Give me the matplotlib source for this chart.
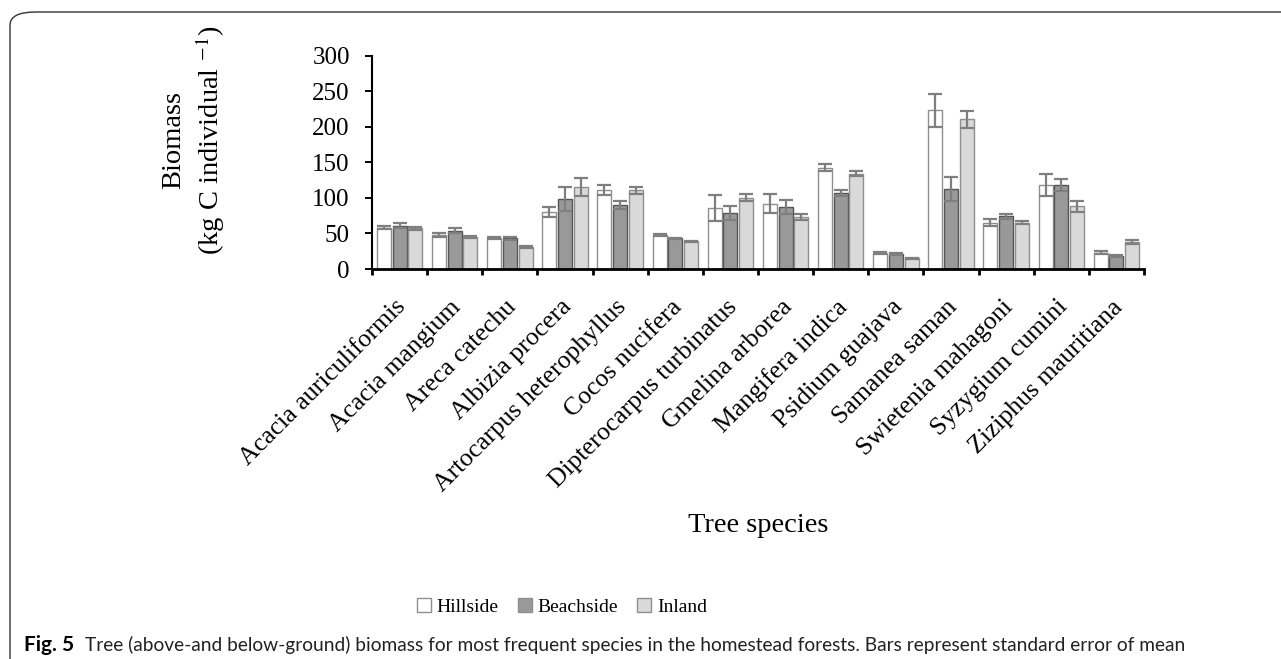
import matplotlib
matplotlib.use("Agg")
import matplotlib.pyplot as plt
import matplotlib.transforms as mtransforms
from matplotlib.patches import Patch, FancyBboxPatch
import numpy as np

# species and mean biomass (kg C per individual) with standard errors
species = ["Acacia auriculiformis", "Acacia mangium", "Areca catechu",
           "Albizia procera", "Artocarpus heterophyllus", "Cocos nucifera",
           "Dipterocarpus turbinatus", "Gmelina arborea", "Mangifera indica",
           "Psidium guajava", "Samanea saman", "Swietenia mahagoni",
           "Syzygium cumini", "Ziziphus mauritiana"]
hillside = [58, 48, 43.5, 80, 111, 48, 86, 92, 142.5, 22, 223, 65, 118, 23]
hillside_se = [2, 3, 1, 7, 6.5, 1.5, 18, 13, 5, 1.5, 23, 5, 15, 2.5]
beachside = [61, 54, 43, 99, 90, 43, 79, 87, 107, 21, 113, 74, 118.5, 18]
beachside_se = [3.5, 3, 2, 17, 5, 1, 10, 10, 4, 1.5, 17, 3, 8.5, 1]
inland = [57, 45, 31, 115, 111, 39, 100, 73, 134, 15, 210.5, 65, 88, 37.5]
inland_se = [1.5, 2, 2, 13, 5, 1, 5, 4, 3.5, 1, 11.5, 2, 8, 3]
sites = ["Hillside", "Beachside", "Inland"]

plt.rcParams["font.family"] = ["Liberation Serif", "DejaVu Serif"]
plt.rcParams["mathtext.fontset"] = "stix"

W, H = 1281, 659
fig = plt.figure(figsize=(W / 100, H / 100), dpi=100)
ax = fig.add_axes([372 / W, 1 - 269 / H, (1144 - 372) / W, (269 - 55.7) / H])

x = np.arange(len(species))
width = 0.255
step = 0.285
err_style = dict(ecolor="#7f7f7f", elinewidth=1.6, capsize=4.8, capthick=1.6)

series = [
    (hillside, hillside_se, "white", "#8f8f8f"),
    (beachside, beachside_se, "#999999", "#555555"),
    (inland, inland_se, "#d9d9d9", "#8f8f8f"),
]
for i, (vals, se, fc, ec) in enumerate(series):
    ax.bar(x + (i - 1) * step, vals, width, yerr=se, color=fc,
           edgecolor=ec, linewidth=1.0, error_kw=err_style, label=sites[i])

ax.set_xlim(-0.5, len(species) - 0.5)
ax.set_ylim(0, 300)
ax.set_yticks(np.arange(0, 301, 50))

for side in ["top", "right"]:
    ax.spines[side].set_visible(False)
ax.spines["left"].set_linewidth(1.5)
ax.spines["bottom"].set_linewidth(2.0)

# tick marks between groups, labels under group centres
ax.set_xticks(x)
ax.set_xticks(np.arange(-0.5, len(species)), minor=True)
ax.set_xticklabels(species, rotation=45, fontsize=18.5)
ax.tick_params(axis="x", which="major", length=0, pad=25)
ax.tick_params(axis="x", which="minor", length=4, width=2, direction="out")
ax.tick_params(axis="y", length=5, width=1.4, labelsize=18, pad=11)
shift = mtransforms.ScaledTranslation(3 / 100, 0, fig.dpi_scale_trans)
for lbl in ax.get_xticklabels():
    lbl.set_ha("right")
    lbl.set_va("center")
    lbl.set_rotation_mode("anchor")
    lbl.set_transform(lbl.get_transform() + shift)

ax.set_xlabel("Tree species", fontsize=20.5)
ax.xaxis.label.set_va("center")
ax.xaxis.set_label_coords(0.5, -1.202)

fig.text(194 / W, 1 - 140 / H, "Biomass\n(kg C individual $^{-1}$)",
         rotation=90, ha="center", va="center", fontsize=20.5,
         linespacing=1.3)

handles = [Patch(facecolor=fc, edgecolor="#8f8f8f", linewidth=1.0)
           for _, _, fc, _ in series]
fig.legend(handles, sites, loc="center", bbox_to_anchor=(562 / W, 1 - 607 / H),
           ncol=3, frameon=False, fontsize=14, handlelength=0.7,
           handleheight=0.7, handletextpad=0.3, columnspacing=1.0)

# caption
fig.text(24 / W, 1 - 645 / H, "Fig. 5", fontsize=15, fontweight="bold",
         family="Lato", va="center")
fig.text(85 / W, 1 - 645 / H,
         "Tree (above-and below-ground) biomass for most frequent species in "
         "the homestead forests. Bars represent standard error of mean",
         fontsize=13.8, family="Lato", va="center", color="#222222")

frame = FancyBboxPatch((10 / W, -0.2), 1300 / W, 1.2 - 12 / H,
                       boxstyle="round,pad=0,rounding_size=0.02",
                       transform=fig.transFigure, fill=False,
                       edgecolor="#333333", linewidth=1.0)
fig.patches.append(frame)

fig.savefig("out.png", dpi=100)
